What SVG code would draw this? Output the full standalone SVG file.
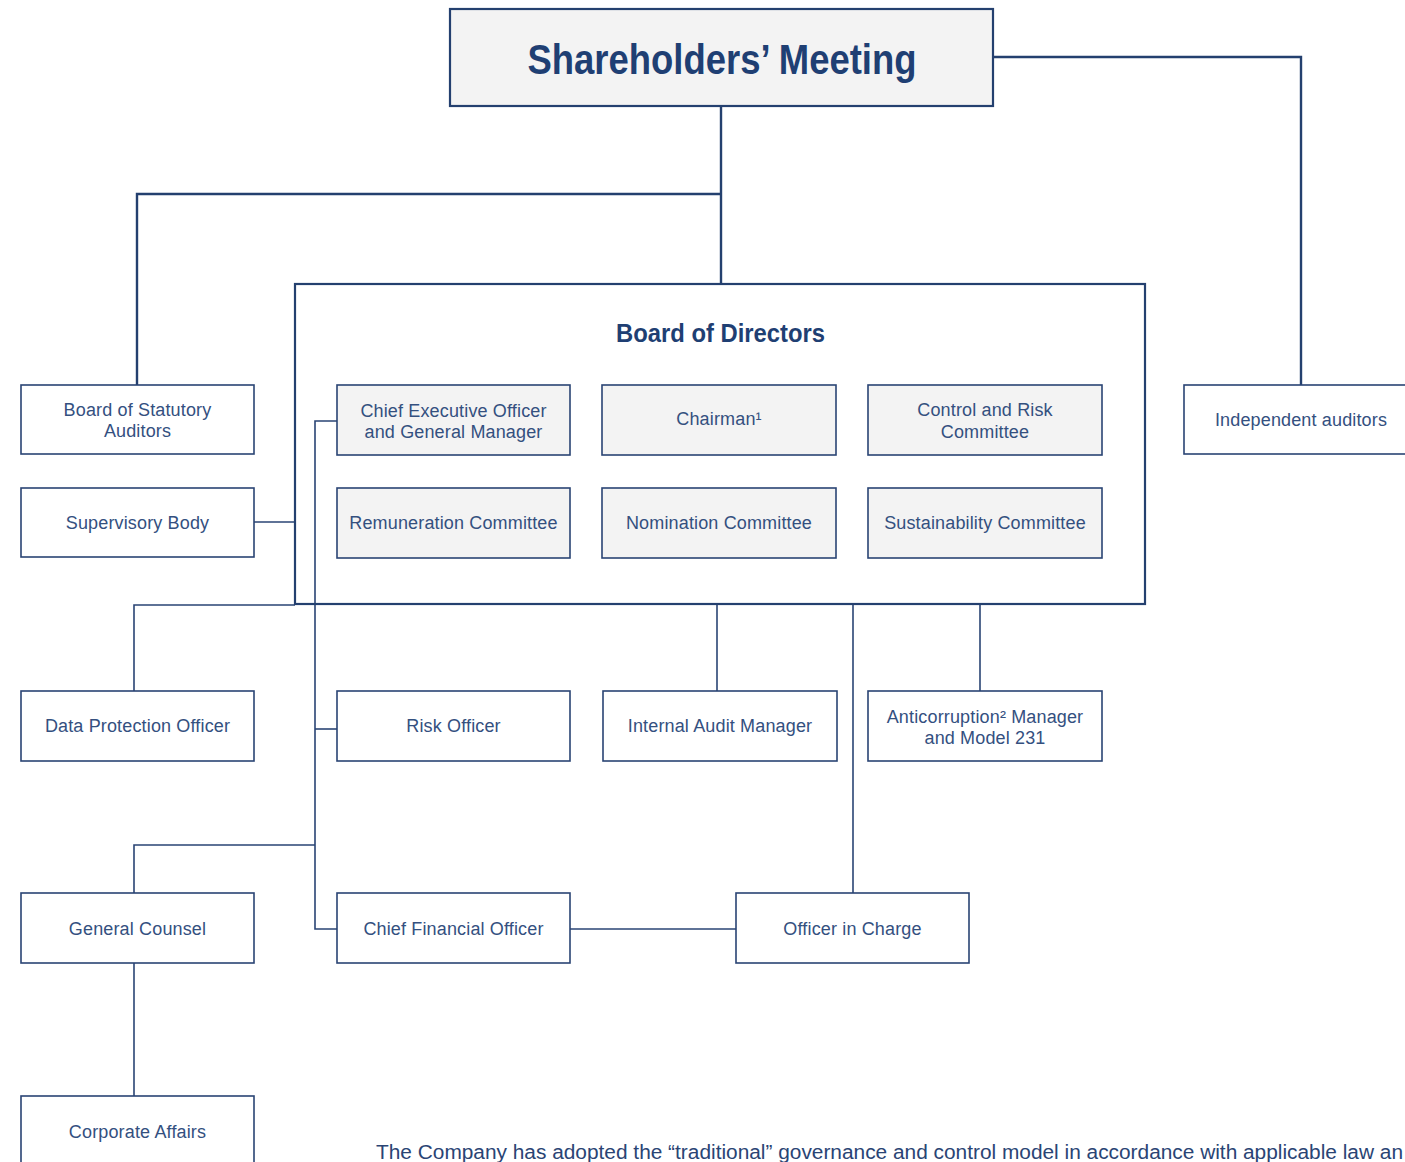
<svg xmlns="http://www.w3.org/2000/svg" width="1405" height="1162" viewBox="0 0 1405 1162">
<style>
.bx{fill:#ffffff;stroke:#2a4474;stroke-width:1.6}
.gb{fill:#f3f3f3;stroke:#2a4474;stroke-width:1.6}
.lb{font-family:"Liberation Sans",Arial,sans-serif;font-size:18px;letter-spacing:0.15px;fill:#34507f;text-anchor:middle}
.ttl{font-family:"Liberation Sans Narrow","Liberation Sans",Arial,sans-serif;font-weight:bold;fill:#1f3f73;text-anchor:middle}
.cn{fill:none;stroke:#2a4474;stroke-width:1.6}
.cnb{fill:none;stroke:#24406f;stroke-width:2.4}
</style>
<rect width="1405" height="1162" fill="#ffffff"/>
<g id="connectors">
<polyline class="cnb" points="721,106 721,284"/>
<polyline class="cnb" points="721,194 137,194 137,385"/>
<polyline class="cnb" points="993,57 1301,57 1301,385"/>
<polyline class="cn" points="254,522 295,522"/>
<polyline class="cn" points="337,421 315,421 315,929 337,929"/>
<polyline class="cn" points="315,729 337,729"/>
<polyline class="cn" points="315,845 134,845 134,893"/>
<polyline class="cn" points="295,605 134,605 134,691"/>
<polyline class="cn" points="717,604 717,691"/>
<polyline class="cn" points="853,604 853,893"/>
<polyline class="cn" points="980,604 980,691"/>
<polyline class="cn" points="570,929 736,929"/>
<polyline class="cn" points="134,963 134,1096"/>
</g>
<g id="shareholders">
<rect x="450" y="9" width="543" height="97" fill="#f3f3f3" stroke="#24406f" stroke-width="2.2"/>
<text class="ttl" x="722" y="74" font-size="42" textLength="389" lengthAdjust="spacingAndGlyphs">Shareholders’ Meeting</text>
</g>
<g id="board-of-directors">
<rect x="295" y="284" width="850" height="320" fill="none" stroke="#24406f" stroke-width="2.2"/>
<text class="ttl" x="720.5" y="342" font-size="26" textLength="209" lengthAdjust="spacingAndGlyphs">Board of Directors</text>
</g>
<g id="ceo"><rect class="gb" x="337" y="385" width="233" height="70"/>
<text class="lb" x="453.5" y="417">Chief Executive Officer</text><text class="lb" x="453.5" y="438">and General Manager</text></g>
<g id="chairman"><rect class="gb" x="602" y="385" width="234" height="70"/>
<text class="lb" x="719" y="425">Chairman¹</text></g>
<g id="control-risk"><rect class="gb" x="868" y="385" width="234" height="70"/>
<text class="lb" x="985" y="416">Control and Risk</text><text class="lb" x="985" y="438">Committee</text></g>
<g id="remuneration"><rect class="gb" x="337" y="488" width="233" height="70"/>
<text class="lb" x="453.5" y="529">Remuneration Committee</text></g>
<g id="nomination"><rect class="gb" x="602" y="488" width="234" height="70"/>
<text class="lb" x="719" y="529">Nomination Committee</text></g>
<g id="sustainability"><rect class="gb" x="868" y="488" width="234" height="70"/>
<text class="lb" x="985" y="529">Sustainability Committee</text></g>
<g id="statutory-auditors"><rect class="bx" x="21" y="385" width="233" height="69"/>
<text class="lb" x="137.5" y="416">Board of Statutory</text><text class="lb" x="137.5" y="437">Auditors</text></g>
<g id="supervisory-body"><rect class="bx" x="21" y="488" width="233" height="69"/>
<text class="lb" x="137.5" y="529">Supervisory Body</text></g>
<g id="independent-auditors"><rect class="bx" x="1184" y="385" width="240" height="69"/>
<text class="lb" x="1301" y="426">Independent auditors</text></g>
<g id="data-protection"><rect class="bx" x="21" y="691" width="233" height="70"/>
<text class="lb" x="137.5" y="732">Data Protection Officer</text></g>
<g id="risk-officer"><rect class="bx" x="337" y="691" width="233" height="70"/>
<text class="lb" x="453.5" y="732">Risk Officer</text></g>
<g id="internal-audit"><rect class="bx" x="603" y="691" width="234" height="70"/>
<text class="lb" x="720" y="732">Internal Audit Manager</text></g>
<g id="anticorruption"><rect class="bx" x="868" y="691" width="234" height="70"/>
<text class="lb" x="985" y="723">Anticorruption² Manager</text><text class="lb" x="985" y="744">and Model 231</text></g>
<g id="general-counsel"><rect class="bx" x="21" y="893" width="233" height="70"/>
<text class="lb" x="137.5" y="935">General Counsel</text></g>
<g id="cfo"><rect class="bx" x="337" y="893" width="233" height="70"/>
<text class="lb" x="453.5" y="935">Chief Financial Officer</text></g>
<g id="officer-in-charge"><rect class="bx" x="736" y="893" width="233" height="70"/>
<text class="lb" x="852.5" y="935">Officer in Charge</text></g>
<g id="corporate-affairs"><rect class="bx" x="21" y="1096" width="233" height="72"/>
<text class="lb" x="137.5" y="1138">Corporate Affairs</text></g>
<text x="376" y="1159" font-family="'Liberation Sans Narrow','Liberation Sans',Arial,sans-serif" font-size="20" fill="#2a4474" textLength="1027" lengthAdjust="spacingAndGlyphs">The Company has adopted the “traditional” governance and control model in accordance with applicable law an</text>
</svg>
